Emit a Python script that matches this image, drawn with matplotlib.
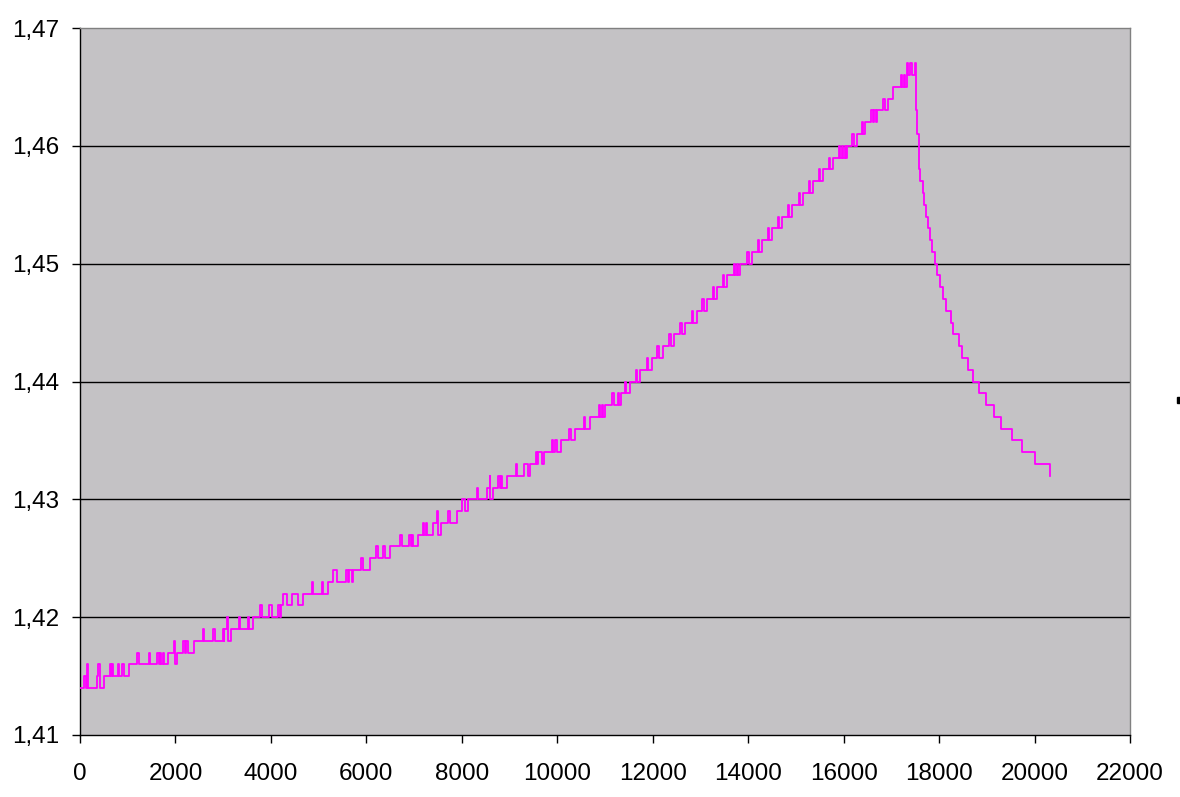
import matplotlib
matplotlib.use("Agg")
import matplotlib.pyplot as plt
from matplotlib.ticker import FixedLocator, FuncFormatter

# Step change points of the measured series (x = time, y = value after change)
step_x = [
    0, 80, 120, 150, 175, 350, 385, 420, 510, 630, 650, 675, 700, 800, 825, 875, 930,
    1027, 1200, 1230, 1450, 1470, 1620, 1650, 1675, 1705, 1745, 1765,
    1850, 1975, 1990, 2040, 2165, 2195, 2220, 2265,
    2395, 2570, 2590, 2795, 2820, 2990, 3010, 3015, 3075, 3095, 3105, 3155,
    3325, 3350, 3525, 3545,
    3630, 3770, 3805, 3965, 4020, 4155, 4190,
    4205, 4255, 4335, 4440, 4560,
    4680, 4855, 4875, 5065, 5100,
    5200, 5305, 5390, 5575, 5615, 5640, 5700,
    5725, 5890, 5925,
    6075, 6200, 6245, 6350, 6390,
    6495, 6705, 6740, 6895, 6930, 6950, 6985,
    7090, 7195, 7215, 7245, 7265,
    7400, 7485, 7505, 7560, 7715, 7750,
    7905, 8010, 8065, 8135,
    8190, 8310, 8330,
    8535, 8590, 8600, 8660, 8765, 8800, 8820, 8850,
    8955, 9130, 9150,
    9310, 9395, 9430, 9550, 9580,
    9605, 9685, 9730, 9885, 9915, 9950, 9990,
    10070, 10250, 10280,
    10370, 10560, 10590,
    10685, 10870, 10900, 10940, 10960,
    11000, 11150, 11180,
    11270, 11300, 11330, 11420, 11450,
    11525, 11640, 11670,
    11735, 11880, 11910,
    11985, 12100, 12130,
    12215, 12350, 12380,
    12445, 12580, 12610,
    12675, 12820, 12850,
    12925, 13040, 13070,
    13135, 13260, 13290,
    13345, 13470, 13500,
    13555, 13700, 13730, 13760, 13780,
    13830, 13980, 14010,
    14080, 14200, 14230,
    14290, 14410, 14440,
    14500, 14620, 14650,
    14710, 14830, 14860,
    14920, 15060, 15090,
    15150, 15270, 15300,
    15360, 15480, 15510,
    15565, 15690, 15720,
    15775, 15900, 15930, 15960, 15990,
    16030, 16050, 16080, 16180, 16210,
    16280, 16380, 16410,
    16445, 16580, 16610, 16640, 16670,
    16700, 16830, 16860,
    16930,
    17035, 17200, 17230, 17260, 17280,
    17330, 17335, 17355, 17390, 17425, 17495, 17515,
    17547, 17585, 17606, 17656, 17694, 17725, 17773, 17815, 17857, 17914,
    17956, 18025, 18088, 18151, 18255, 18297, 18423, 18486, 18611, 18716,
    18842, 18989, 19156, 19303, 19534, 19743, 20016, 20317,
]
step_y = [
    1.414, 1.415, 1.414, 1.416, 1.414, 1.415, 1.416, 1.414, 1.415, 1.416, 1.415, 1.416, 1.415, 1.416, 1.415, 1.416, 1.415,
    1.416, 1.417, 1.416, 1.417, 1.416, 1.417, 1.416, 1.417, 1.416, 1.417, 1.416,
    1.417, 1.418, 1.416, 1.417, 1.418, 1.417, 1.418, 1.417,
    1.418, 1.419, 1.418, 1.419, 1.418, 1.419, 1.418, 1.419, 1.420, 1.419, 1.418, 1.419,
    1.420, 1.419, 1.420, 1.419,
    1.420, 1.421, 1.420, 1.421, 1.420, 1.421, 1.420,
    1.421, 1.422, 1.421, 1.422, 1.421,
    1.422, 1.423, 1.422, 1.423, 1.422,
    1.423, 1.424, 1.423, 1.424, 1.423, 1.424, 1.423,
    1.424, 1.425, 1.424,
    1.425, 1.426, 1.425, 1.426, 1.425,
    1.426, 1.427, 1.426, 1.427, 1.426, 1.427, 1.426,
    1.427, 1.428, 1.427, 1.428, 1.427,
    1.428, 1.429, 1.427, 1.428, 1.429, 1.428,
    1.429, 1.430, 1.429, 1.430,
    1.430, 1.431, 1.430,
    1.431, 1.432, 1.430, 1.431, 1.432, 1.431, 1.432, 1.431,
    1.432, 1.433, 1.432,
    1.433, 1.432, 1.433, 1.434, 1.433,
    1.434, 1.433, 1.434, 1.435, 1.434, 1.435, 1.434,
    1.435, 1.436, 1.435,
    1.436, 1.437, 1.436,
    1.437, 1.438, 1.437, 1.438, 1.437,
    1.438, 1.439, 1.438,
    1.439, 1.438, 1.439, 1.440, 1.439,
    1.440, 1.441, 1.440,
    1.441, 1.442, 1.441,
    1.442, 1.443, 1.442,
    1.443, 1.444, 1.443,
    1.444, 1.445, 1.444,
    1.445, 1.446, 1.445,
    1.446, 1.447, 1.446,
    1.447, 1.448, 1.447,
    1.448, 1.449, 1.448,
    1.449, 1.450, 1.449, 1.450, 1.449,
    1.450, 1.451, 1.450,
    1.451, 1.452, 1.451,
    1.452, 1.453, 1.452,
    1.453, 1.454, 1.453,
    1.454, 1.455, 1.454,
    1.455, 1.456, 1.455,
    1.456, 1.457, 1.456,
    1.457, 1.458, 1.457,
    1.458, 1.459, 1.458,
    1.459, 1.460, 1.459, 1.460, 1.459,
    1.460, 1.459, 1.460, 1.461, 1.460,
    1.461, 1.462, 1.461,
    1.462, 1.463, 1.462, 1.463, 1.462,
    1.463, 1.464, 1.463,
    1.464,
    1.465, 1.466, 1.465, 1.466, 1.465,
    1.466, 1.467, 1.466, 1.467, 1.466, 1.467, 1.463,
    1.461, 1.458, 1.457, 1.456, 1.455, 1.454, 1.453, 1.452, 1.451, 1.450,
    1.449, 1.448, 1.447, 1.446, 1.445, 1.444, 1.443, 1.442, 1.441, 1.440,
    1.439, 1.438, 1.437, 1.436, 1.435, 1.434, 1.433, 1.432,
]

x_ticks = list(range(0, 22001, 2000))
y_ticks = [1.41, 1.42, 1.43, 1.44, 1.45, 1.46, 1.47]

plt.rcParams['font.family'] = ['Liberation Sans', 'DejaVu Sans']

fig = plt.figure(figsize=(11.8, 7.97), dpi=100)
ax = fig.add_axes([80 / 1180, 1 - 735 / 797, 1050 / 1180, 707 / 797])
ax.set_facecolor('#C4C2C5')

for g in y_ticks[1:-1]:
    ax.axhline(g, color='black', lw=1.0, zorder=1)

ax.plot(step_x, step_y, drawstyle='steps-post', color='#FF00FF', lw=1.3, zorder=3)

ax.set_xlim(0, 22000)
ax.set_ylim(1.41, 1.47)
ax.xaxis.set_major_locator(FixedLocator(x_ticks))
ax.yaxis.set_major_locator(FixedLocator(y_ticks))
ax.yaxis.set_major_formatter(FuncFormatter(lambda v, p: f"{v:.2f}".replace('.', ',')))
ax.xaxis.set_major_formatter(FuncFormatter(lambda v, p: f"{int(round(v))}"))

ax.tick_params(axis='both', direction='out', length=6, width=1.0, colors='black',
               labelsize=17.5)
ax.tick_params(axis='y', pad=9)
ax.tick_params(axis='x', pad=14)

for s in ['left', 'bottom']:
    ax.spines[s].set_color('black')
    ax.spines[s].set_linewidth(1.0)
for s in ['top', 'right']:
    ax.spines[s].set_color('#808080')
    ax.spines[s].set_linewidth(1.0)

# small stray mark at the right edge
fig.patches.append(plt.Rectangle((1177 / 1180, 1 - 403 / 797), 3 / 1180, 6 / 797,
                                 transform=fig.transFigure, color='black'))

fig.savefig('out.png', dpi=100)
